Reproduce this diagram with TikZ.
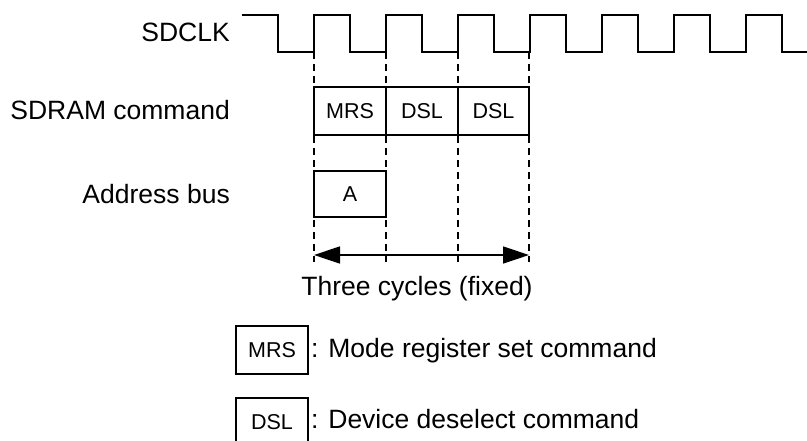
\documentclass[tikz,border=0pt]{standalone}
\usepackage{fontspec}
\setmainfont{Liberation Sans}
\usetikzlibrary{arrows.meta}
\begin{document}
\begin{tikzpicture}[x=1pt,y=-1pt,
  wave/.style={line width=1.7pt, line join=miter},
  slot/.style={draw, line width=1.7pt, fill=white, minimum width=72pt, minimum height=48pt, inner sep=0pt, font=\fontsize{21.5}{24}\selectfont},
  guide/.style={line width=1.4pt, dash pattern=on 7pt off 5pt},
  lbl/.style={font=\fontsize{26.5}{30}\selectfont, inner sep=0pt},
  span/.style={line width=1.5pt, {Triangle[length=26pt,width=17pt]}-{Triangle[length=26pt,width=17pt]}}]
\useasboundingbox (0,0) rectangle (807,440);
\clip (0,0) rectangle (807,440);
% clock
\draw[wave] (242,15) -- (278,15) foreach \i in {0,...,6} { -- ++(0,37) -- ++(36,0) -- ++(0,-37) -- ++(36,0) } -- ++(0,37) -- (807,52);
% guides
\foreach \x [count=\k] in {314,386,458,529} {
  \coordinate (t\k) at (\x,52);
  \coordinate (b\k) at (\x,262);
  \draw[guide] (t\k) -- (b\k);
}
% command boxes
\node[slot] (mrs) at (350,111) {MRS};
\node[slot] (dsla) at (422,111) {DSL};
\node[slot, minimum width=71pt] (dslb) at (493.5,111) {DSL};
\node[slot, minimum height=46pt] (addr) at (350,194) {A};
% span arrow
\coordinate (al) at (314,255);
\coordinate (ar) at (529,255);
\draw[span] (al) -- (ar);
% labels
\node[lbl, anchor=base east] (clk) at (230,41) {SDCLK};
\node[lbl, anchor=base east] (cmd) at (230,119) {SDRAM command};
\node[lbl, anchor=base east] (bus) at (230,203) {Address bus};
\node[lbl, anchor=base] (cyc) at (417,295) {Three cycles (fixed)};
% legend
\node[slot] (kmrs) at (272,350) {MRS};
\node[slot] (kdsl) at (272,422) {DSL};
\node[lbl, anchor=base west] (tmrs) at (311,357) {: Mode register set command};
\node[lbl, anchor=base west] (tdsl) at (311,428) {: Device deselect command};
\end{tikzpicture}
\end{document}
